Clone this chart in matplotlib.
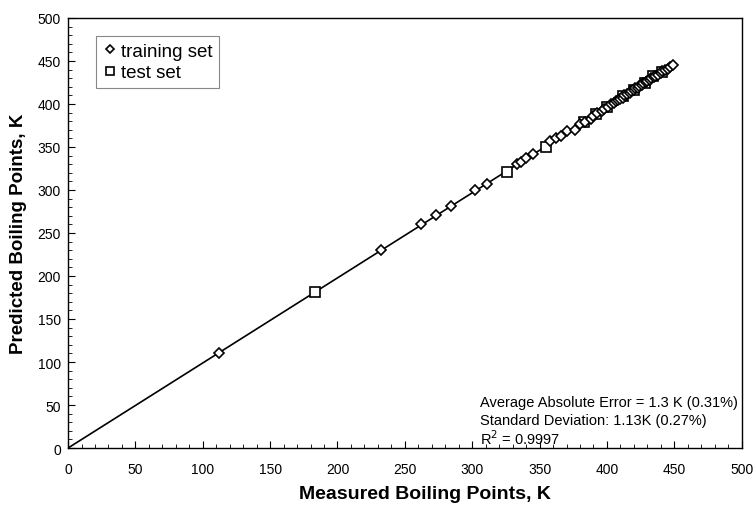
import matplotlib
matplotlib.use('Agg')
import matplotlib.pyplot as plt
from matplotlib.ticker import MultipleLocator

plt.rcParams['font.family'] = ['Liberation Sans', 'DejaVu Sans']

# training set: measured vs predicted (K)
train_meas = [112, 232, 262, 273, 284, 302, 311, 333, 336, 340, 345, 358, 362,
              366, 370, 376, 380, 384, 388, 390, 393, 396, 398, 401, 403, 405,
              407, 408, 410, 412, 413, 415, 417, 418, 420, 421, 423, 424, 426,
              427, 429, 430, 432, 433, 435, 436, 438, 440, 441, 443, 445, 447, 449]
train_pred = [111, 230, 260, 271, 281, 300, 307, 330, 332, 337, 342, 357, 360,
              363, 368, 370, 377, 379, 383, 386, 389, 392, 394, 397, 400, 401,
              403, 405, 406, 407, 410, 411, 413, 415, 416, 418, 419, 421, 422,
              424, 425, 427, 428, 430, 431, 433, 434, 436, 438, 439, 441, 443, 445]

# test set
test_meas = [183, 326, 355, 383, 392, 400, 412, 420, 428, 434, 441]
test_pred = [181, 321, 350, 379, 388, 396, 409, 416, 424, 432, 437]

# fitted line end points
fit_x = [0, 450]
fit_y = [0, 445]

fig = plt.figure(figsize=(7.56, 5.06), dpi=100)
ax = fig.add_axes([0.090, 0.1126, 0.891, 0.850])

ax.plot(fit_x, fit_y, color='black', lw=1.2, zorder=1)
ax.plot(train_meas, train_pred, linestyle='none', marker='D', markersize=5,
        markerfacecolor='white', markeredgecolor='black', markeredgewidth=1.2,
        label='training set', zorder=3)
ax.plot(test_meas, test_pred, linestyle='none', marker='s', markersize=6.5,
        markerfacecolor='white', markeredgecolor='black', markeredgewidth=1.2,
        label='test set', zorder=2)

ax.set_xlim(0, 500)
ax.set_ylim(0, 500)
ax.xaxis.set_major_locator(MultipleLocator(50))
ax.yaxis.set_major_locator(MultipleLocator(50))
ax.xaxis.set_minor_locator(MultipleLocator(10))
ax.yaxis.set_minor_locator(MultipleLocator(10))
ax.tick_params(which='major', direction='in', length=5, width=0.8, labelsize=10)
ax.tick_params(axis='x', which='major', pad=10)
ax.tick_params(axis='y', which='major', pad=5)
ax.tick_params(which='minor', direction='in', length=3, width=0.6)

ax.set_xlabel('Measured Boiling Points, K', fontsize=14, fontweight='bold')
ax.xaxis.set_label_coords(0.53, -0.085)
ax.set_ylabel('Predicted Boiling Points, K', fontsize=13.5, fontweight='bold', labelpad=8)

for s in ax.spines.values():
    s.set_linewidth(1.0)

leg = ax.legend(loc='upper left', bbox_to_anchor=(0.028, 0.98), fontsize=13.5,
                handletextpad=0.15, handlelength=0.8, borderpad=0.35,
                labelspacing=0.25, markerscale=0.9, fancybox=False, framealpha=1,
                edgecolor='#888888')
leg.get_frame().set_linewidth(0.8)

ax.text(306, 54, 'Average Absolute Error = 1.3 K (0.31%)', fontsize=10.5, va='center')
ax.text(306, 33, 'Standard Deviation: 1.13K (0.27%)', fontsize=10.5, va='center')
ax.text(306, 12, 'R$^2$ = 0.9997', fontsize=10.5, va='center')

fig.savefig('out.png', dpi=100)
